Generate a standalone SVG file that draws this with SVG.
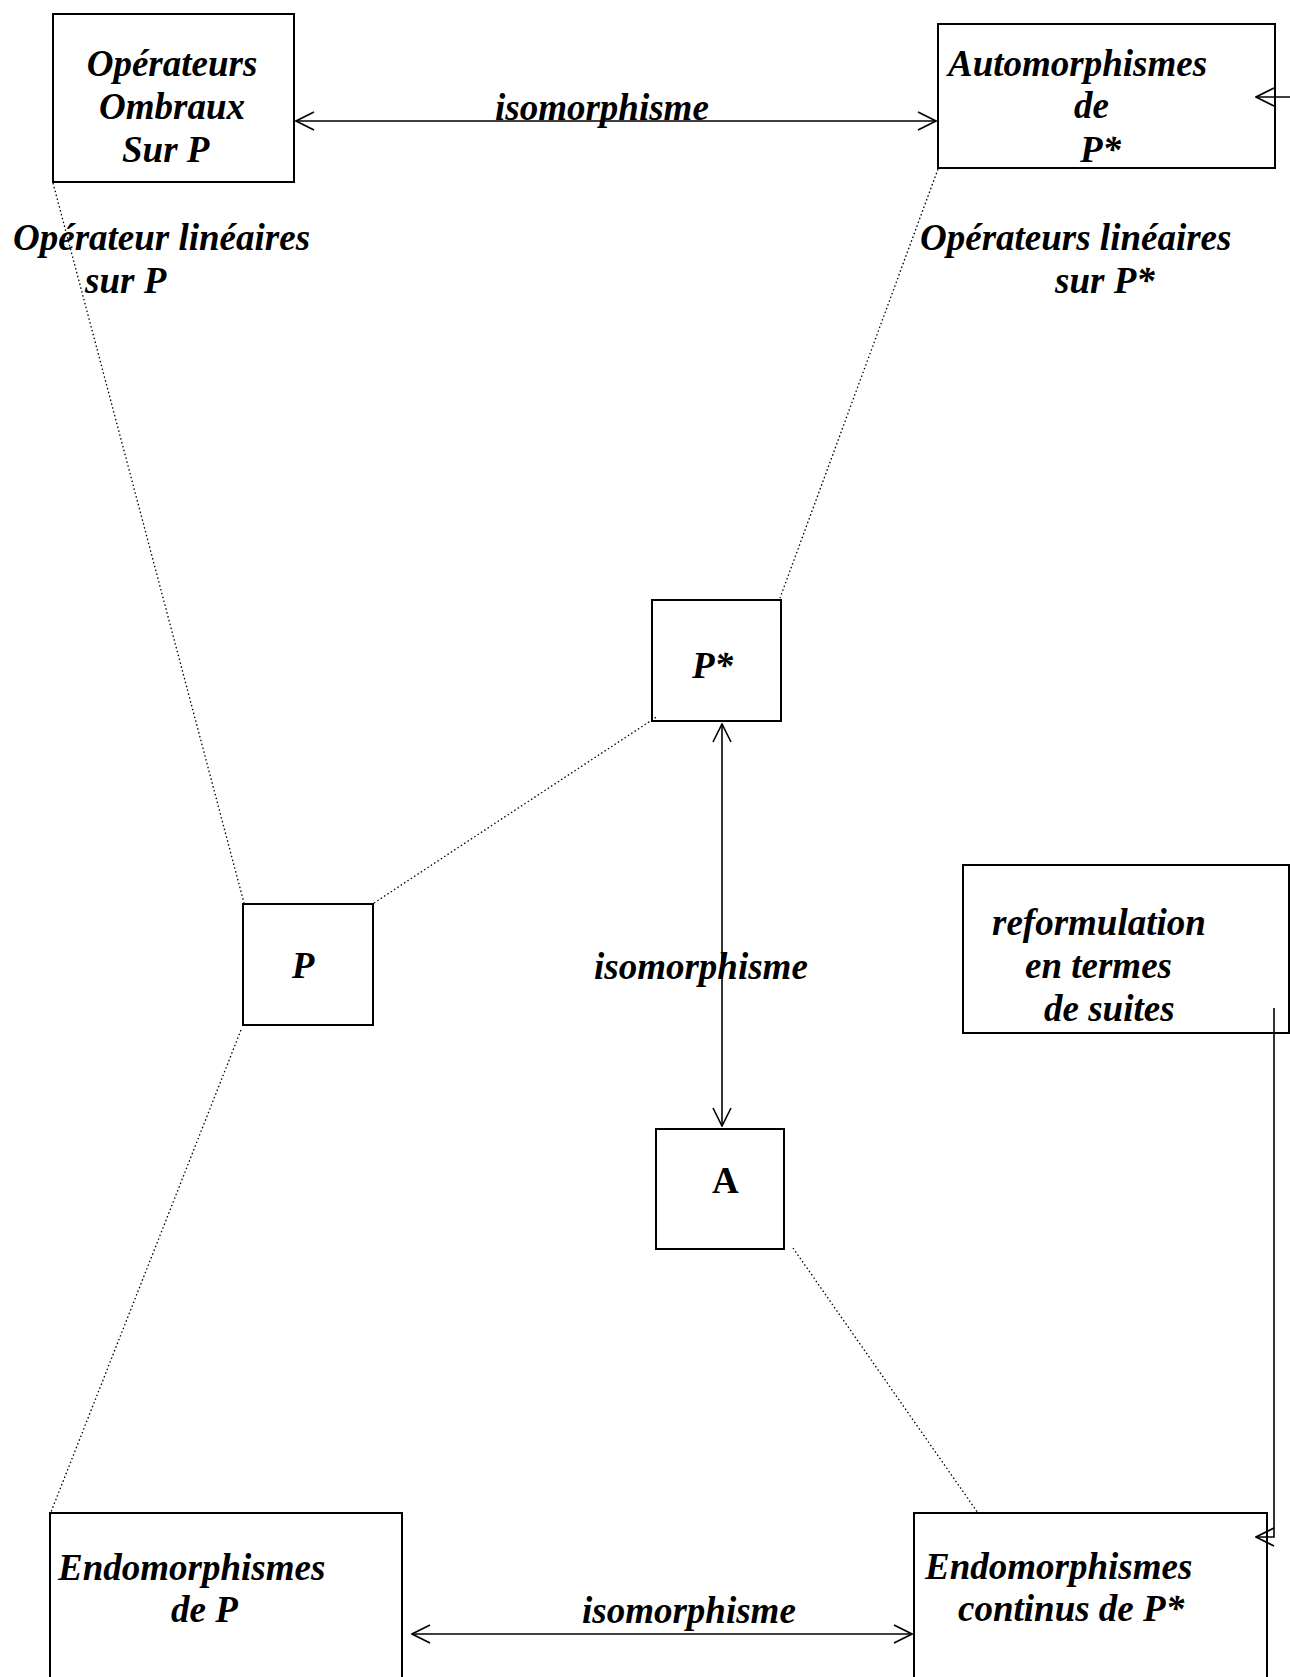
<svg xmlns="http://www.w3.org/2000/svg" width="1290" height="1677" viewBox="0 0 1290 1677">
<style>
.box{fill:none;stroke:#000;stroke-width:2}
.t{font-family:"Liberation Serif","Times New Roman",serif;font-size:37px;font-weight:bold;font-style:italic;fill:#000}
.tc{text-anchor:middle}
.line{fill:none;stroke:#000;stroke-width:1.6}
.dot{fill:none;stroke:#000;stroke-width:1.3;stroke-dasharray:1.5 2.5}
</style>
<defs>
<marker id="ah" viewBox="0 0 20 20" refX="19" refY="10" markerWidth="20" markerHeight="20" markerUnits="userSpaceOnUse" orient="auto-start-reverse">
<path d="M1,1 L19,10 L1,19" fill="none" stroke="#000" stroke-width="1.6"/>
</marker>
</defs>
<rect width="1290" height="1677" fill="#fff"/>
<g id="connectors">
<line class="line" x1="296" y1="121" x2="936" y2="121" marker-start="url(#ah)" marker-end="url(#ah)"/>
<line class="line" x1="1290" y1="97" x2="1256" y2="97" marker-end="url(#ah)"/>
<line class="line" x1="722" y1="724" x2="722" y2="1126" marker-start="url(#ah)" marker-end="url(#ah)"/>
<line class="line" x1="412" y1="1634" x2="912" y2="1634" marker-start="url(#ah)" marker-end="url(#ah)"/>
<polyline class="line" points="1274,1008 1274,1537 1256,1537" marker-end="url(#ah)"/>
<line class="dot" x1="53" y1="183" x2="244" y2="903"/>
<line class="dot" x1="374" y1="903" x2="658" y2="716"/>
<line class="dot" x1="938" y1="169" x2="780" y2="598"/>
<line class="dot" x1="241" y1="1030" x2="51" y2="1512"/>
<line class="dot" x1="793" y1="1248" x2="978" y2="1513"/>
<text class="t" x="495" y="120">isomorphisme</text>
<text class="t" x="594" y="979">isomorphisme</text>
<text class="t" x="582" y="1623">isomorphisme</text>
<text class="t" x="13" y="250">Opérateur linéaires</text>
<text class="t" x="85" y="293">sur P</text>
<text class="t" x="920" y="250">Opérateurs linéaires</text>
<text class="t" x="1055" y="293">sur P*</text>
</g>
<g id="n-ombraux">
<rect class="box" x="53" y="14" width="241" height="168"/>
<text class="t tc" x="172" y="76">Opérateurs</text>
<text class="t tc" x="172" y="119">Ombraux</text>
<text class="t" x="122" y="162">Sur P</text>
</g>
<g id="n-automorphismes">
<rect class="box" x="938" y="24" width="337" height="144"/>
<text class="t" x="948" y="76">Automorphismes</text>
<text class="t" x="1074" y="118">de</text>
<text class="t" x="1080" y="162">P*</text>
</g>
<g id="n-pstar">
<rect class="box" x="652" y="600" width="129" height="121"/>
<text class="t" x="692" y="678">P*</text>
</g>
<g id="n-p">
<rect class="box" x="243" y="904" width="130" height="121"/>
<text class="t tc" x="303" y="978">P</text>
</g>
<g id="n-reformulation">
<rect class="box" x="963" y="865" width="326" height="168"/>
<text class="t" x="992" y="935">reformulation</text>
<text class="t" x="1025" y="978">en termes</text>
<text class="t" x="1044" y="1021">de suites</text>
</g>
<g id="n-a">
<rect class="box" x="656" y="1129" width="128" height="120"/>
<text class="t" style="font-style:normal" x="712" y="1193">A</text>
</g>
<g id="n-endo-p">
<rect class="box" x="50" y="1513" width="352" height="200"/>
<text class="t" x="58" y="1580">Endomorphismes</text>
<text class="t" x="171" y="1622">de P</text>
</g>
<g id="n-endo-pstar">
<rect class="box" x="914" y="1513" width="353" height="200"/>
<text class="t" x="925" y="1579">Endomorphismes</text>
<text class="t" x="958" y="1621">continus de P*</text>
</g>
</svg>
